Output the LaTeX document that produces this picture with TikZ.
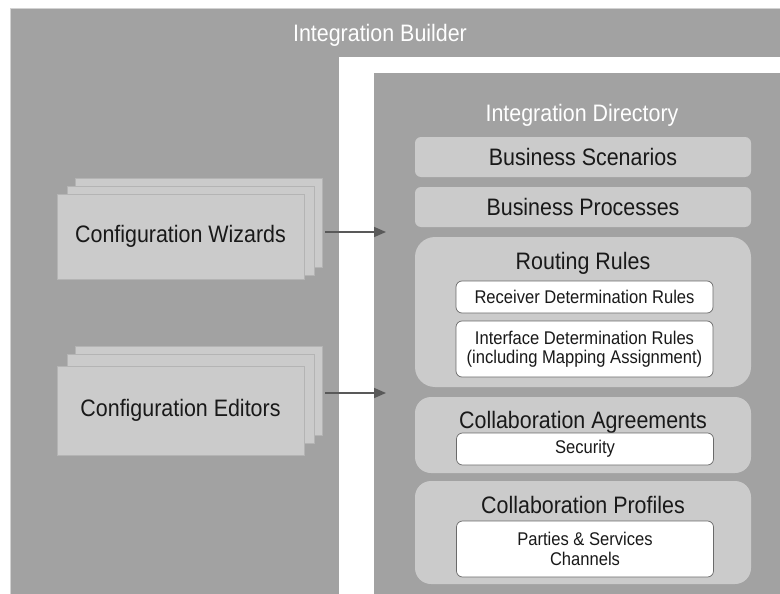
\documentclass[tikz,border=0pt]{standalone}
\usepackage{fontspec}
\setmainfont[FakeStretch=0.9]{Liberation Sans}
\usetikzlibrary{arrows.meta}
\definecolor{darkbg}{HTML}{A2A2A2}
\definecolor{lightbg}{HTML}{CBCBCB}
\definecolor{rimc}{HTML}{D2D2D2}
\definecolor{edgec}{HTML}{6A6A6A}
\definecolor{layerc}{HTML}{B4B4B4}
\definecolor{arrowc}{HTML}{595959}
\tikzset{
  bigtext/.style={font=\fontsize{23.8}{27}\selectfont},
  smalltext/.style={font=\fontsize{18.4}{19.5}\selectfont},
  title/.style={bigtext,text=white,inner sep=0pt},
  head/.style={bigtext,text=black!90,inner sep=0pt},
  panel/.style={fill=lightbg,rounded corners=#1,minimum width=336pt,inner sep=0pt,bigtext,text=black!90},
  panel/.default=6pt,
  rulebox/.style={draw=edgec,line width=0.7pt,fill=white,rounded corners=6pt,minimum width=257pt,
    inner sep=0pt,align=center,smalltext,text=black!90},
  layer/.style={fill=lightbg,draw=layerc,line width=0.6pt,minimum width=247pt,inner sep=0pt},
  tool/.style={layer,bigtext,text=black!90},
  flow/.style={-{Triangle[length=12pt,width=10pt]},line width=1.6pt,draw=arrowc}
}
\begin{document}
\begin{tikzpicture}[x=1pt,y=-1pt]
  \useasboundingbox (0,0) rectangle (780,594);
  % builder and directory areas
  \fill[darkbg,draw=rimc,line width=0.8pt] (10,8) rectangle (781,595);
  \fill[white] (339,57) rectangle (781,595);
  \fill[darkbg] (374,73) rectangle (781,595);
  \node[title] (builder) at (380,35) {Integration Builder};
  \node[title] (directory) at (582,115) {Integration Directory};

  % configuration tools
  \node[layer,minimum height=89pt] (wizback) at (198.5,222.5) {};
  \node[layer,minimum height=89pt] (wizmid) at (190.5,230.5) {};
  \node[tool,minimum height=85pt] (wiz) at (180.5,236.5) {Configuration Wizards};
  \node[layer,minimum height=89pt] (edback) at (198.5,390.5) {};
  \node[layer,minimum height=89pt] (edmid) at (190.5,398.5) {};
  \node[tool,minimum height=89pt] (ed) at (180.5,410.5) {Configuration Editors};

  % directory objects
  \node[panel,minimum height=40pt] (scen) at (583,157) {Business Scenarios};
  \node[panel,minimum height=40pt] (proc) at (583,207) {Business Processes};
  \node[panel=20pt,minimum height=150pt] (routing) at (583,312) {};
  \node[head] (routingt) at (583,263) {Routing Rules};
  \node[rulebox,minimum height=32pt] (recv) at (584.5,297) {Receiver Determination Rules};
  \node[rulebox,minimum height=56pt] (intf) at (584.5,349) {Interface Determination Rules\\(including Mapping Assignment)};
  \node[panel=16pt,minimum height=76pt] (agree) at (583,435) {};
  \node[head] (agreet) at (583,422) {Collaboration Agreements};
  \node[rulebox,minimum height=32pt] (sec) at (585,449) {Security};
  \node[panel=16pt,minimum height=103pt] (prof) at (583,532.5) {};
  \node[head] (proft) at (583,505) {Collaboration Profiles};
  \node[rulebox,minimum height=56pt] (party) at (585,549) {Parties \& Services\\Channels};

  % connectors
  \coordinate (wizin) at (386,232);
  \coordinate (edin) at (386,393);
  \draw[flow] (wizback.east |- wizin) ++(3,0) -- (wizin);
  \draw[flow] (edback.east |- edin) ++(3,0) -- (edin);
\end{tikzpicture}
\end{document}
